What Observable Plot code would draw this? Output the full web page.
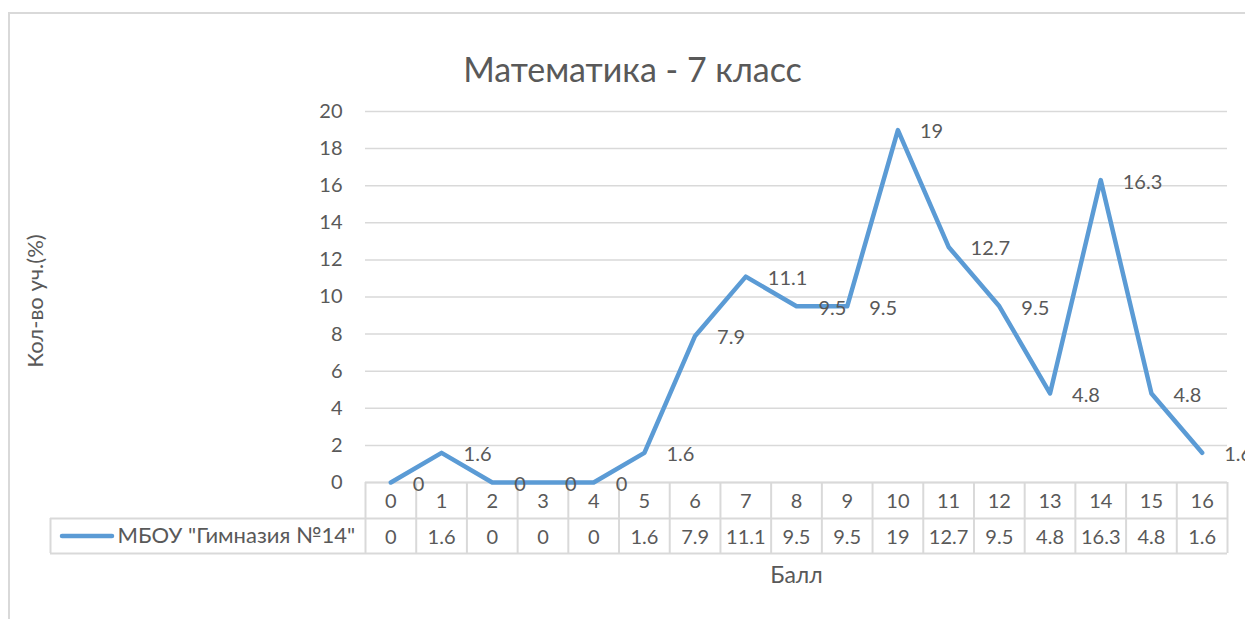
<!DOCTYPE html>
<html>
<head>
<meta charset="utf-8">
<script src="https://cdn.jsdelivr.net/npm/d3@7"></script>
<script src="https://cdn.jsdelivr.net/npm/@observablehq/plot@0.6"></script>
<style>
  html, body { margin: 0; padding: 0; background: #fff; overflow: hidden; }
  #wrap { position: relative; width: 1245px; height: 619px; }
  #border { position: absolute; left: 8px; top: 12px; width: 1300px; height: 700px; border: 2px solid #d9d9d9; box-sizing: border-box; }
  #chart { position: absolute; left: 0; top: 0; }
</style>
</head>
<body>
<div id="wrap"><div id="border"></div><div id="chart"></div></div>
<script>
const title = "Математика - 7 класс";
const yTitle = "Кол-во уч.(%)";
const xTitle = "Балл";
const seriesName = "МБОУ \"Гимназия №14\"";
const scores = [0, 1, 2, 3, 4, 5, 6, 7, 8, 9, 10, 11, 12, 13, 14, 15, 16];
const percents = [0, 1.6, 0, 0, 0, 1.6, 7.9, 11.1, 9.5, 9.5, 19, 12.7, 9.5, 4.8, 16.3, 4.8, 1.6];
const yTicks = [0, 2, 4, 6, 8, 10, 12, 14, 16, 18, 20];

const W = 1245, H = 619;
const mL = 365, mR = 18, mT = 111, mB = 137;
const font = "Lato, 'Open Sans', sans-serif";
const textColor = "#595959";
const gridColor = "#d9d9d9";
const lineColor = "#5b9bd5";

// pixel -> data unit conversions (for table drawn below the axis)
const xUnit = (W - mL - mR) / (scores.length);
const yUnit = (H - mT - mB) / 20;
const rowH = 36;
const yRow1 = -rowH / yUnit;
const yRow2 = -(2 * rowH - 1) / yUnit;
const xLegendLeft = -0.5 - (mL - 50) / xUnit;
const xMin = -0.5, xMax = scores.length - 0.5;
const colEdges = d3.range(scores.length + 1).map(i => i - 0.5);

const data = scores.map((s, i) => ({score: s, pct: percents[i]}));

const chart = Plot.plot({
  width: W,
  height: H,
  marginLeft: mL,
  marginRight: mR,
  marginTop: mT,
  marginBottom: mB,
  style: {fontFamily: font, fontSize: "20px", color: textColor, background: "transparent"},
  x: {domain: [xMin, xMax], axis: null},
  y: {domain: [0, 20], ticks: yTicks},
  marks: [
    Plot.gridY(yTicks, {stroke: gridColor, strokeOpacity: 1, strokeWidth: 1.5}),
    Plot.axisY(yTicks, {tickSize: 0, tickPadding: 23, fill: textColor, fontSize: 20, label: null}),
    Plot.text([yTitle], {frameAnchor: "left", textAnchor: "middle", dx: -330, dy: 4, rotate: -90, text: d => d, fill: textColor, fontSize: 22}),
    // table lines
    Plot.ruleX(colEdges, {x: d => d, y1: 0, y2: yRow2, stroke: gridColor, strokeWidth: 2}),
    Plot.ruleY([yRow1, yRow2], {y: d => d, x1: xLegendLeft, x2: xMax, stroke: gridColor, strokeWidth: 2}),
    Plot.ruleX([xLegendLeft], {x: d => d, y1: yRow1, y2: yRow2, stroke: gridColor, strokeWidth: 2}),
    Plot.ruleY([0], {x1: xMin, x2: xMax, stroke: gridColor, strokeWidth: 2}),
    // table text
    Plot.text(data, {x: "score", y: () => 0, dy: 19, text: d => String(d.score), fill: textColor, fontSize: 20}),
    Plot.text(data, {x: "score", y: () => 0, dy: 55, text: d => String(d.pct), fill: textColor, fontSize: 20}),
    // legend in table
    Plot.ruleY([(yRow1 + yRow2) / 2], {y: d => d, x1: xLegendLeft + 12 / xUnit, x2: xLegendLeft + 62 / xUnit, stroke: lineColor, strokeWidth: 4.5, strokeLinecap: "round"}),
    Plot.text([seriesName], {x: xLegendLeft + 67 / xUnit, y: (yRow1 + yRow2) / 2, text: d => d, textAnchor: "start", fill: textColor, fontSize: 22}),
    // series line
    Plot.line(data, {x: "score", y: "pct", stroke: lineColor, strokeWidth: 4.5, strokeLinejoin: "round", strokeLinecap: "round"}),
    // data labels
    Plot.text(data, {x: "score", y: "pct", text: d => String(d.pct), textAnchor: "start", dx: 22, dy: 2, fill: textColor, fontSize: 20}),
    // titles
    Plot.text([title], {frameAnchor: "top", dx: 632 - (mL + (W - mL - mR) / 2), dy: -54, text: d => d, fill: textColor, fontSize: 34}),
    Plot.text([xTitle], {frameAnchor: "bottom", dy: 100, text: d => d, fill: textColor, fontSize: 23})
  ]
});
document.getElementById("chart").appendChild(chart);
</script>
</body>
</html>
